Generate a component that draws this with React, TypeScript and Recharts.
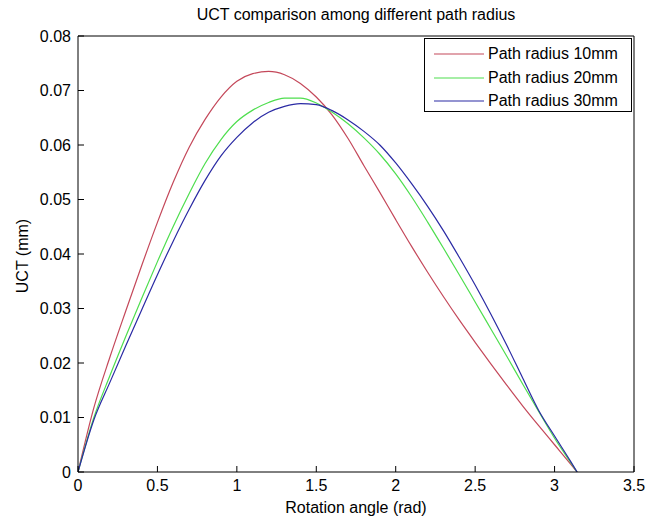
import React from 'react';
import { LineChart, Line, XAxis, YAxis } from 'recharts';

const angle = [0, 0.1, 0.2, 0.3, 0.4, 0.5, 0.6, 0.7, 0.8, 0.9, 1.0, 1.1, 1.2, 1.3, 1.4, 1.5, 1.6, 1.7, 1.8, 1.9, 2.0, 2.1, 2.2, 2.3, 2.4, 2.5, 2.6, 2.7, 2.8, 2.9, 3.0, 3.1, 3.1416];

const radius10 = [0, 0.0118, 0.0210, 0.0295, 0.0378, 0.0458, 0.0532, 0.0596, 0.0647, 0.0688, 0.0717, 0.0731, 0.0735, 0.0729, 0.0713, 0.0688, 0.0655, 0.0612, 0.0562, 0.0513, 0.0463, 0.0414, 0.0367, 0.0322, 0.0279, 0.0238, 0.0198, 0.0159, 0.0121, 0.0085, 0.0050, 0.0015, 0];

const radius20 = [0, 0.0100, 0.0176, 0.0248, 0.0318, 0.0386, 0.0451, 0.0511, 0.0566, 0.0610, 0.0643, 0.0664, 0.0678, 0.0686, 0.0686, 0.0677, 0.0660, 0.0639, 0.0613, 0.0583, 0.0547, 0.0505, 0.0459, 0.0411, 0.0362, 0.0312, 0.0262, 0.0212, 0.0161, 0.0111, 0.0062, 0.0018, 0];

const radius30 = [0, 0.0096, 0.0164, 0.0231, 0.0297, 0.0362, 0.0424, 0.0482, 0.0535, 0.0580, 0.0614, 0.0641, 0.0660, 0.0671, 0.0676, 0.0674, 0.0663, 0.0646, 0.0625, 0.0600, 0.0567, 0.0529, 0.0488, 0.0443, 0.0394, 0.0343, 0.0289, 0.0232, 0.0172, 0.0113, 0.0066, 0.0020, 0];

const xTicks = [0, 0.5, 1, 1.5, 2, 2.5, 3, 3.5];
const yTicks = [0, 0.01, 0.02, 0.03, 0.04, 0.05, 0.06, 0.07, 0.08];

const seriesNames = ['Path radius 10mm', 'Path radius 20mm', 'Path radius 30mm'];
const seriesColors = ['#c4485a', '#4ede4e', '#2a2aa4'];

const data = angle.map((a, i) => ({ angle: a, r10: radius10[i], r20: radius20[i], r30: radius30[i] }));

const FONT = '"Liberation Sans", Arial, Helvetica, sans-serif';

const fmtY = (v: number) => (v === 0 ? '0' : String(Number(v.toFixed(2))));
const fmtX = (v: number) => String(v);

const LegendBox = () => (
  <div
    style={{
      position: 'absolute',
      left: 424,
      top: 38,
      width: 208,
      height: 74,
      border: '1px solid #000',
      background: '#fff',
      boxSizing: 'border-box',
      fontFamily: FONT,
      fontSize: 16,
      color: '#000',
    }}
  >
    {seriesNames.map((n, i) => (
      <div key={n} style={{ position: 'absolute', left: 9, top: 5 + i * 23.5, height: 20, display: 'flex', alignItems: 'center' }}>
        <svg width={50} height={4} style={{ display: 'block' }}>
          <line x1={0} y1={2} x2={50} y2={2} stroke={seriesColors[i]} strokeWidth={1.2} />
        </svg>
        <span style={{ marginLeft: 4, whiteSpace: 'nowrap' }}>{n}</span>
      </div>
    ))}
  </div>
);

export default function App() {
  return (
    <div style={{ position: 'absolute', left: 0, top: 0, width: 656, height: 519, background: '#fff', overflow: 'hidden' }}>
      <div
        style={{
          position: 'absolute',
          left: 56,
          width: 600,
          top: 6,
          textAlign: 'center',
          fontFamily: FONT,
          fontSize: 16,
          color: '#000',
          whiteSpace: 'nowrap',
        }}
      >
        UCT comparison among different path radius
      </div>
      <div
        style={{
          position: 'absolute',
          left: 56,
          width: 600,
          top: 499,
          textAlign: 'center',
          fontFamily: FONT,
          fontSize: 16,
          color: '#000',
          whiteSpace: 'nowrap',
        }}
      >
        Rotation angle (rad)
      </div>
      <div
        style={{
          position: 'absolute',
          left: 23,
          top: 256,
          transform: 'translate(-50%, -50%) rotate(-90deg)',
          fontFamily: FONT,
          fontSize: 16,
          color: '#000',
          whiteSpace: 'nowrap',
        }}
      >
        UCT (mm)
      </div>
      <div style={{ position: 'absolute', left: 0, top: 0 }}>
        <LineChart
          width={656}
          height={519}
          data={data}
          margin={{ top: 35, right: 21, bottom: 7, left: 8 }}
        >
          <XAxis
            xAxisId="bottom"
            dataKey="angle"
            type="number"
            domain={[0, 3.5]}
            ticks={xTicks}
            tickFormatter={fmtX}
            orientation="bottom"
            height={40}
            tickSize={-6}
            tickMargin={14}
            interval={0}
            allowDataOverflow
            axisLine={{ stroke: '#000', strokeWidth: 1 }}
            tickLine={{ stroke: '#000', strokeWidth: 1 }}
            tick={{ fill: '#000', fontSize: 16, fontFamily: FONT }}
          />
          <XAxis
            xAxisId="top"
            dataKey="angle"
            type="number"
            domain={[0, 3.5]}
            ticks={xTicks}
            orientation="top"
            height={1}
            tickSize={-6}
            interval={0}
            allowDataOverflow
            axisLine={{ stroke: '#000', strokeWidth: 1 }}
            tickLine={{ stroke: '#000', strokeWidth: 1 }}
            tick={false}
          />
          <YAxis
            yAxisId="left"
            type="number"
            domain={[0, 0.08]}
            ticks={yTicks}
            tickFormatter={fmtY}
            orientation="left"
            width={70}
            tickSize={-6}
            tickMargin={13}
            interval={0}
            allowDataOverflow
            axisLine={{ stroke: '#000', strokeWidth: 1 }}
            tickLine={{ stroke: '#000', strokeWidth: 1 }}
            tick={{ fill: '#000', fontSize: 16, fontFamily: FONT }}
          />
          <YAxis
            yAxisId="right"
            type="number"
            domain={[0, 0.08]}
            ticks={yTicks}
            orientation="right"
            width={1}
            tickSize={-6}
            interval={0}
            allowDataOverflow
            axisLine={{ stroke: '#000', strokeWidth: 1 }}
            tickLine={{ stroke: '#000', strokeWidth: 1 }}
            tick={false}
          />
          <Line xAxisId="bottom" yAxisId="left" type="monotone" dataKey="r10" name={seriesNames[0]} stroke={seriesColors[0]} strokeWidth={1.2} dot={false} isAnimationActive={false} />
          <Line xAxisId="bottom" yAxisId="left" type="monotone" dataKey="r20" name={seriesNames[1]} stroke={seriesColors[1]} strokeWidth={1.2} dot={false} isAnimationActive={false} />
          <Line xAxisId="bottom" yAxisId="left" type="monotone" dataKey="r30" name={seriesNames[2]} stroke={seriesColors[2]} strokeWidth={1.2} dot={false} isAnimationActive={false} />
        </LineChart>
      </div>
      <LegendBox />
    </div>
  );
}
